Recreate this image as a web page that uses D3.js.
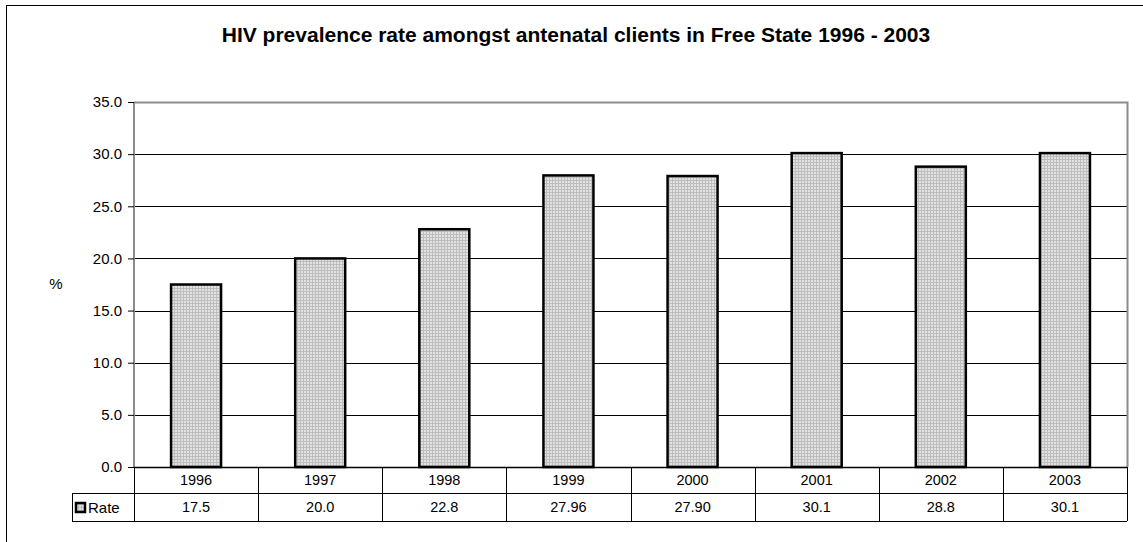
<!DOCTYPE html>
<html><head><meta charset="utf-8">
<script src="https://cdn.jsdelivr.net/npm/d3@7"></script>
<style>body{margin:0;background:#fff}svg{display:block;font-family:"Liberation Sans",Arial,sans-serif}</style>
</head><body><svg id="c" width="1143" height="542"></svg>
<script>
const years = ["1996","1997","1998","1999","2000","2001","2002","2003"];
const rates = [17.5, 20.0, 22.8, 27.96, 27.90, 30.1, 28.8, 30.1];
const rateLabels = ["17.5","20.0","22.8","27.96","27.90","30.1","28.8","30.1"];
const yTicks = [0,5,10,15,20,25,30,35];
const seriesName = "Rate";
const title = "HIV prevalence rate amongst antenatal clients in Free State 1996 - 2003";

const svg = d3.select("#c");
const L = 134, R = 1127, T = 102, B = 467;
const row1 = 493, row2 = 521, legL = 72;
const FS = 14.5;

const defs = svg.append("defs");
const pat = defs.append("pattern").attr("id","dots").attr("width",3).attr("height",3).attr("patternUnits","userSpaceOnUse");
pat.append("rect").attr("width",3).attr("height",3).attr("fill","#bdbdbd");
pat.append("rect").attr("x",1).attr("y",1).attr("width",2).attr("height",2).attr("fill","#e2e2e2");

// outer frame (left/top visible)
svg.append("rect").attr("x",6.5).attr("y",5.5).attr("width",1160).attr("height",560).attr("fill","none").attr("stroke","#000").attr("stroke-width",1);

const xb = d3.scaleBand().domain(years).range([L,R]);
const y = d3.scaleLinear().domain([0,35]).range([B,T]);

// gridlines
svg.append("g").selectAll("line").data(yTicks.filter(d=>d>0 && d<35)).join("line")
  .attr("x1",L).attr("x2",R).attr("y1",d=>Math.round(y(d))+0.5).attr("y2",d=>Math.round(y(d))+0.5)
  .attr("stroke","#000").attr("stroke-width",1);

// plot border (gray)
svg.append("path").attr("d",`M${L},${T+0.5}H${R+0.5}V${B}`).attr("fill","none").attr("stroke","#8c8c8c").attr("stroke-width",2);

// y axis
const yAxis = d3.axisLeft(y).tickValues(yTicks).tickFormat(d3.format(".1f")).tickSize(6).tickPadding(6);
const ga = svg.append("g").attr("transform",`translate(${L},0)`).call(yAxis);
ga.select(".domain").attr("stroke","#8c8c8c").attr("stroke-width",2).attr("d",`M0,${T}V${B}`);
ga.selectAll(".tick line").attr("stroke","#000");
ga.selectAll(".tick text").attr("font-size",15).attr("fill","#000").attr("font-family","Liberation Sans, Arial, sans-serif");

// bars
svg.append("g").selectAll("rect").data(rates).join("rect")
  .attr("x",(d,i)=>xb(years[i])+xb.bandwidth()/2-25).attr("width",50)
  .attr("y",d=>y(d)).attr("height",d=>B-y(d))
  .attr("fill","url(#dots)").attr("stroke","#000").attr("stroke-width",2.5);

// table
const tg = svg.append("g").attr("stroke","#000").attr("stroke-width",1);
tg.append("line").attr("x1",L).attr("x2",R).attr("y1",B+0.5).attr("y2",B+0.5).attr("stroke-width",1.5);
tg.append("line").attr("x1",legL).attr("x2",R).attr("y1",row1+0.5).attr("y2",row1+0.5);
tg.append("line").attr("x1",legL).attr("x2",R).attr("y1",row2+0.5).attr("y2",row2+0.5);
tg.append("line").attr("x1",legL+0.5).attr("x2",legL+0.5).attr("y1",row1).attr("y2",row2);
const bounds = years.map(d=>xb(d)).concat([R]);
tg.selectAll("line.v").data(bounds).join("line").attr("class","v")
  .attr("x1",d=>Math.round(d)+0.5).attr("x2",d=>Math.round(d)+0.5).attr("y1",B).attr("y2",row2);

svg.append("g").selectAll("text").data(years).join("text")
  .attr("x",d=>xb(d)+xb.bandwidth()/2).attr("y",(B+row1)/2+5).attr("text-anchor","middle")
  .attr("font-size",FS).text(d=>d);
svg.append("g").selectAll("text").data(rateLabels).join("text")
  .attr("x",(d,i)=>xb(years[i])+xb.bandwidth()/2).attr("y",(row1+row2)/2+5).attr("text-anchor","middle")
  .attr("font-size",FS).text(d=>d);

// legend key
svg.append("rect").attr("x",76).attr("y",503).attr("width",9).attr("height",9).attr("fill","url(#dots)").attr("stroke","#000").attr("stroke-width",2.5);
svg.append("text").attr("x",88).attr("y",513).attr("font-size",15).text(seriesName);

// y label
svg.append("text").attr("x",56).attr("y",289).attr("text-anchor","middle").attr("font-size",15).text("%");

// title
svg.append("text").attr("x",576).attr("y",42).attr("text-anchor","middle").attr("font-size",21).attr("font-weight","bold").text(title);
</script></body></html>
